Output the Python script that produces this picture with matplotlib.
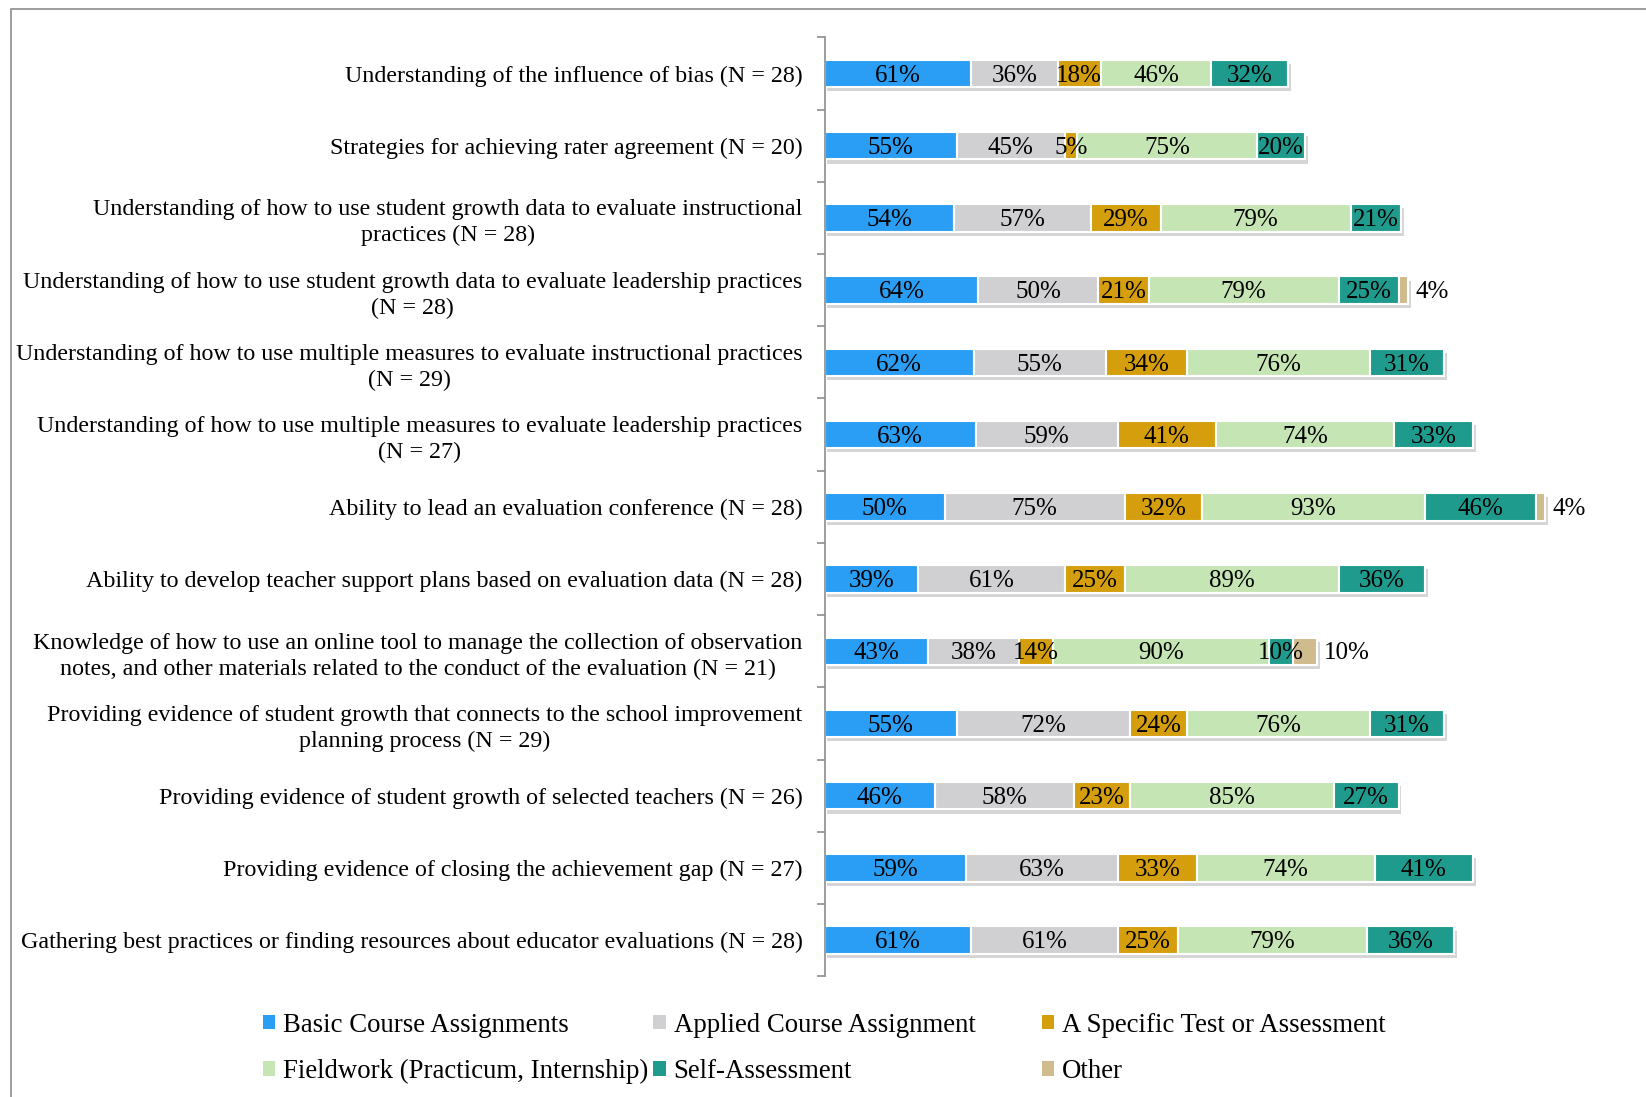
import matplotlib.pyplot as plt
import matplotlib.patheffects as pe
from matplotlib.patches import Rectangle
import numpy as np

plt.rcParams['font.family'] = ['Liberation Serif', 'DejaVu Serif']

categories = [
    "Understanding of the influence of bias (N = 28)",
    "Strategies for achieving rater agreement (N = 20)",
    "Understanding of how to use student growth data to evaluate instructional\npractices (N = 28)",
    "Understanding of how to use student growth data to evaluate leadership practices\n(N = 28)",
    "Understanding of how to use multiple measures to evaluate instructional practices\n(N = 29)",
    "Understanding of how to use multiple measures to evaluate leadership practices\n(N = 27)",
    "Ability to lead an evaluation conference (N = 28)",
    "Ability to develop teacher support plans based on evaluation data (N = 28)",
    "Knowledge of how to use an online tool to manage the collection of observation\nnotes, and other materials related to the conduct of the evaluation (N = 21)",
    "Providing evidence of student growth that connects to the school improvement\nplanning process (N = 29)",
    "Providing evidence of student growth of selected teachers (N = 26)",
    "Providing evidence of closing the achievement gap (N = 27)",
    "Gathering best practices or finding resources about educator evaluations (N = 28)",
]

series_names = ["Basic Course Assignments", "Applied Course Assignment",
                "A Specific Test or Assessment", "Fieldwork (Practicum, Internship)",
                "Self-Assessment", "Other"]

basic     = [61, 55, 54, 64, 62, 63, 50, 39, 43, 55, 46, 59, 61]
applied   = [36, 45, 57, 50, 55, 59, 75, 61, 38, 72, 58, 63, 61]
test      = [18, 5, 29, 21, 34, 41, 32, 25, 14, 24, 23, 33, 25]
fieldwork = [46, 75, 79, 79, 76, 74, 93, 89, 90, 76, 85, 74, 79]
selfass   = [32, 20, 21, 25, 31, 33, 46, 36, 10, 31, 27, 41, 36]
other     = [0, 0, 0, 4, 0, 0, 4, 0, 10, 0, 0, 0, 0]

colors = ['#2A9DF4', '#D0D0D2', '#D49E0C', '#C6E5B4', '#1E9B8D', '#CFBB8E']

data = [basic, applied, test, fieldwork, selfass, other]

fig = plt.figure(figsize=(16.46, 10.97), dpi=100)
ax = fig.add_axes([0.501, 0.110, 0.499, 0.856])

y = np.arange(len(categories))
left = np.zeros(len(categories))
shadow = [pe.SimplePatchShadow(offset=(2, -3), shadow_rgbFace='#888888', alpha=0.35), pe.Normal()]
handles = []
for k, vals in enumerate(data):
    vals = np.array(vals, dtype=float)
    bars = ax.barh(y, vals, left=left, height=0.38, color=colors[k],
                   edgecolor='white', linewidth=1.5, label=series_names[k])
    for b in bars:
        b.set_path_effects(shadow)
    handles.append(bars)
    for i, v in enumerate(vals):
        if v == 0:
            continue
        if k == len(data) - 1:
            # "Other" labels sit just outside the bar end
            ax.text(left[i] + v + 3, y[i] + 0.03, "%d%%" % v, ha='left', va='center', fontsize=18)
        else:
            ax.text(left[i] + v / 2, y[i] + 0.03, "%d%%" % v, ha='center', va='center', fontsize=18)
    left += vals

ax.set_xlim(0, 342)
ax.set_ylim(len(categories) - 0.5, -0.5)
ax.set_xticks([])
for s in ['top', 'right', 'bottom']:
    ax.spines[s].set_visible(False)
ax.spines['left'].set_color('#8C8C8C')
ax.spines['left'].set_linewidth(1.2)

ax.set_yticks(y)
ax.set_yticklabels(categories, fontsize=17.3)
ax.tick_params(axis='y', which='major', length=0, pad=16)
ax.set_yticks(np.arange(-0.5, len(categories), 1.0), minor=True)
ax.tick_params(axis='y', which='minor', length=6, width=1.2, color='#8C8C8C', direction='out')
for lab in ax.get_yticklabels():
    lab.set_multialignment('center')
    lab.set_linespacing(1.3)

# legend, three columns placed separately
col_pairs = [(0, 3), (1, 4), (2, 5)]
col_x = [0.160, 0.397, 0.633]
for (a, b), xx in zip(col_pairs, col_x):
    leg = fig.legend([handles[a], handles[b]], [series_names[a], series_names[b]],
                     loc='upper left', bbox_to_anchor=(xx, 0.077), frameon=False,
                     fontsize=19.3, handlelength=0.45, handleheight=0.45, handletextpad=0.3,
                     labelspacing=0.8, borderpad=0, borderaxespad=0)
    for h in leg.legend_handles:
        h.set_path_effects([])
        h.set_edgecolor('none')

fig.add_artist(Rectangle((11 / 1646, -0.2), 1.2, 1.2 - 9 / 1097,
                         transform=fig.transFigure, fill=False, edgecolor='#8C8C8C', linewidth=1.2))

fig.savefig("out.png", dpi=100)
